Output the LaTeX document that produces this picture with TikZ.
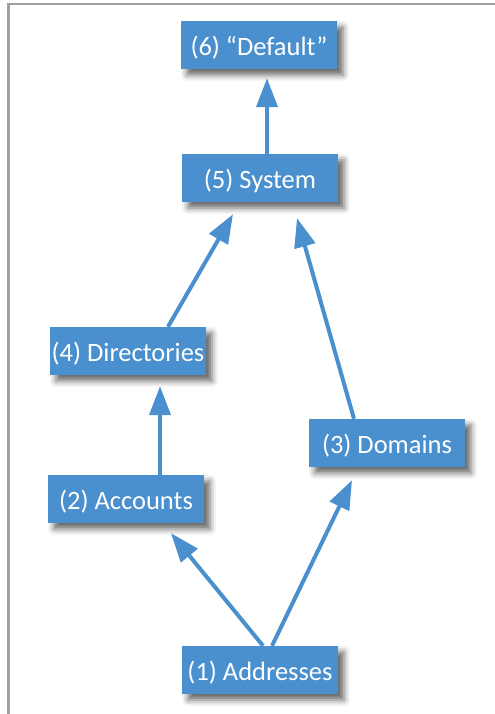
\documentclass[tikz,border=0pt]{standalone}
\usepackage{fontspec}
\setmainfont{Carlito}
\usetikzlibrary{calc,arrows.meta,shadows.blur}
\definecolor{boxblue}{RGB}{74,143,206}
\definecolor{framegray}{RGB}{160,160,160}
\tikzset{
  box/.style={fill=boxblue, text=white, minimum width=156bp, minimum height=48bp,
    inner sep=0pt, text height=24bp, text depth=3bp,
    font=\fontsize{26.5bp}{30bp}\selectfont,
    blur shadow={shadow xshift=6bp, shadow yshift=-6bp, shadow blur radius=6bp, shadow opacity=60}},
  link/.style={draw=boxblue, line width=4bp, -{Triangle[length=29bp,width=21bp]}}
}
\begin{document}
\begin{tikzpicture}[x=1bp,y=-1bp]
\useasboundingbox (0,0) rectangle (495,714);
\draw[framegray, line width=2.5bp] (8.5,714) -- (8.5,4) -- (495,4);
\node[box] (def) at (259,45) {(6) “Default”};
\node[box] (sys) at (260,178) {(5) System};
\node[box] (dir) at (128,351) {(4) Directories};
\node[box] (dom) at (387,443) {(3) Domains};
\node[box] (acc) at (126,499) {(2) Accounts};
\node[box] (addr) at (260,670) {(1) Addresses};
\draw[link] ($(sys.north)+(7,0)$) -- ($(def.south)+(8,9)$);
\draw[link] ($(dir.north)+(40,0)$) -- ($(sys.south)+(-27,12)$);
\draw[link] ($(dom.north)+(-33,0)$) -- ($(sys.south)+(37,16)$);
\draw[link] ($(acc.north)+(34,0)$) -- ($(dir.south)+(32,11)$);
\draw[link] ($(addr.north)+(3,0)$) -- ($(acc.south)+(45,10)$);
\draw[link] ($(addr.north)+(12,0)$) -- ($(dom.south)+(-35,13)$);
\end{tikzpicture}
\end{document}
